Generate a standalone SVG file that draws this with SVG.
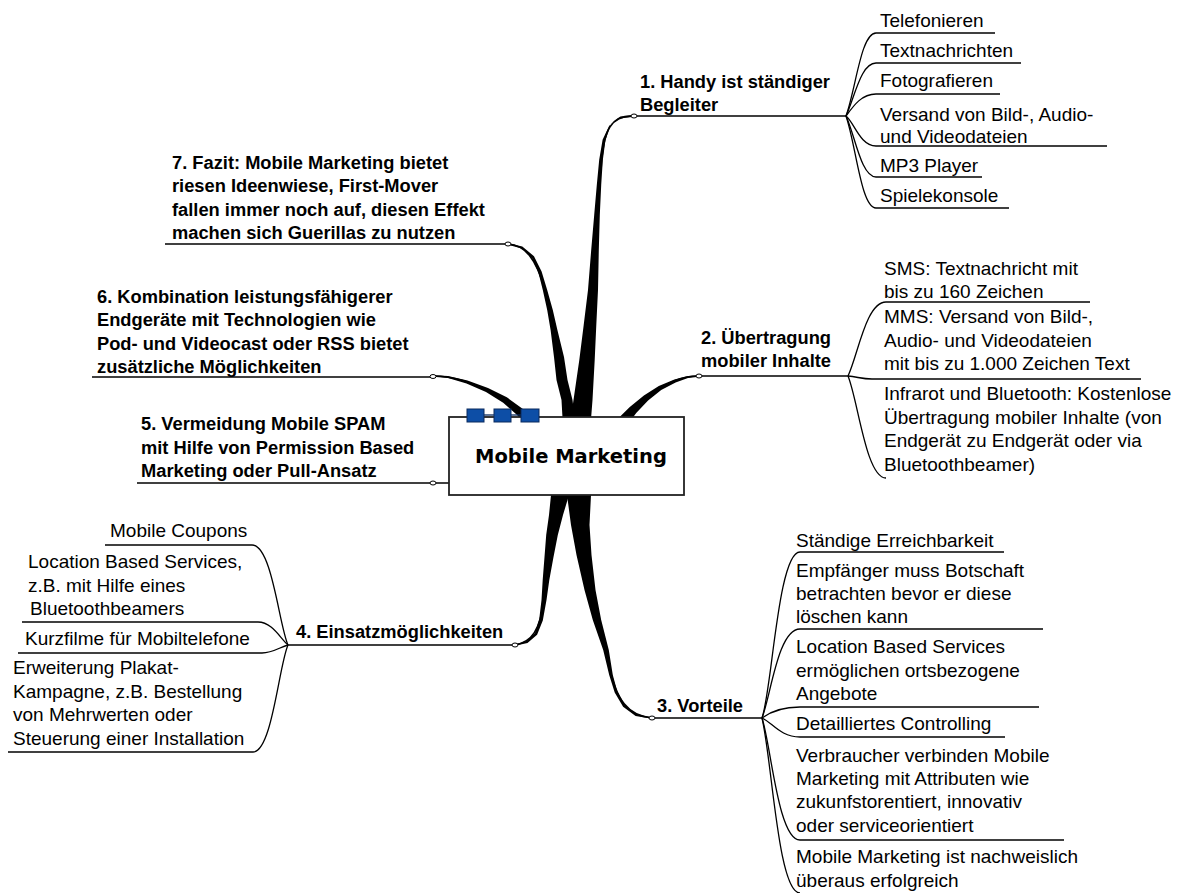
<svg xmlns="http://www.w3.org/2000/svg" width="1186" height="893" viewBox="0 0 1186 893">
  <defs>
    <style>
      .b { font-family: "Liberation Sans", Arial, sans-serif; font-weight: bold; font-size: 18.3px; fill: #000; }
      .t { font-family: "Liberation Sans", Arial, sans-serif; font-size: 19px; fill: #000; }
      .c { font-family: "DejaVu Sans", Verdana, sans-serif; font-weight: bold; font-size: 19.5px; fill: #000; }
      .ln { fill: none; stroke: #000; stroke-width: 1.3; }
      .ul { fill: none; stroke: #000; stroke-width: 1.5; }
      .thin { fill: none; stroke: #000; stroke-width: 1.7; stroke-linecap: round; }
      .prong { fill: #000; }
      .dot { fill: #fff; stroke: #000; stroke-width: 1; }
      .sq { fill: #0d4ea6; stroke: #0a2a5e; stroke-width: 1; }
    </style>
  </defs>
  <rect width="1186" height="893" fill="#fff"/>

  <!-- connectors: tapered main branches and thin sub-branch leaders -->
  <g id="connectors">
    <!-- main branches (tapered) -->
    <polygon class="prong" points="634,115.2 620.3,116.6 610.8,124.2 605.4,140.3 602.8,160.2 601.2,185 599.8,215 598.8,250 598,290 596.3,325 594.7,360 592.5,400 589,445 567,445 573.5,400 579.3,360 583.7,325 588,290 591.2,250 594.2,215 596.8,185 599.2,159.8 602.6,139.7 609.2,125.8 619.7,118.4 634,116.8"/>
    <path class="thin" d="M634,116 C612,115 603,128 601,170"/>
    <polygon class="prong" points="508,243.2 522.3,246.5 534,256.2 541.6,271.5 547.2,290 552.8,310 557.4,330 564,357 567.5,380 572.5,400 578,445 564,445 561.5,400 556.5,380 554,357 550.6,330 547.2,310 542.8,290 538.4,272.5 532,257.8 521.7,248.5 508,244.8"/>
    <path class="thin" d="M508,244 C525,245 536,258 545,290"/>
    <polygon class="prong" points="699,375.2 688,376 674.4,379.6 658.8,386 643.9,395.4 629.8,406.9 615.3,421.3 598.6,440.2 611.4,449.8 624.7,428.8 636.2,413.1 648.1,400.6 661.2,390 675.6,382.4 688,378 699,376.8"/>
    <path class="thin" d="M699,376 C680,376 668,383 650,395"/>
    <polygon class="prong" points="433,375.2 448,376.1 467.5,380.6 488,387.9 506.8,397.3 522.9,408.9 539.2,424.4 553.2,441.1 542.8,448.9 530.8,431.6 517.1,415.1 503.2,402.8 486,392.1 466.5,383.4 448,377.9 433,376.8"/>
    <path class="thin" d="M433,376 C455,376 472,383 495,394"/>
    <polygon class="prong" points="515,645.8 527.5,642.9 537.1,634.7 542.8,620.4 546.5,600 549.3,580 553.5,557 557.8,535 563,515 569,495 573,470 553,470 551,495 549,515 546.2,535 544.5,557 542.7,580 541.5,600 539.2,619.6 534.9,633.3 526.5,641.1 515,644.2"/>
    <path class="thin" d="M515,645 C532,642 540,630 544,600"/>
    <polygon class="prong" points="652,717.2 636.4,714.1 624.9,705.2 617.3,691.5 612.8,675 608.8,650 601.2,620 595.5,590 591.5,555 589.5,525 591,495 589,470 565,470 567,495 571,525 576.5,555 584.5,590 592.8,620 603.2,650 609.2,675 614.7,692.5 623.1,706.8 635.6,715.9 652,718.8"/>
    <path class="thin" d="M652,718 C628,716 616,700 609,665"/>
    <line class="ul" x1="433" y1="483" x2="449" y2="483"/>

    <!-- branch 1 leaders -->
    <path class="ln" d="M846,116 C856,88 861,33 876,33"/>
    <path class="ln" d="M846,116 C855,96 861,63 876,63"/>
    <path class="ln" d="M846,116 C854,105 862,94 876,94"/>
    <path class="ln" d="M846,116 C854,122 860,146 876,146"/>
    <path class="ln" d="M846,116 C855,135 861,177 876,177"/>
    <path class="ln" d="M846,116 C856,145 861,208 876,208"/>
    <!-- branch 2 leaders -->
    <path class="ln" d="M848,376 C858,355 866,302 886,302"/>
    <path class="ln" d="M848,376 C858,377 862,379 872,379"/>
    <path class="ln" d="M848,376 C858,400 866,478 886,478"/>
    <!-- branch 3 leaders -->
    <path class="ln" d="M762,718 C772,690 778,552 800,552"/>
    <path class="ln" d="M762,718 C771,695 778,629 800,629"/>
    <path class="ln" d="M762,718 C770,712 780,707 800,707"/>
    <path class="ln" d="M762,718 C772,722 780,737 800,737"/>
    <path class="ln" d="M762,718 C771,745 778,840 800,840"/>
    <path class="ln" d="M762,718 C772,760 778,893 800,893"/>
    <!-- branch 4 leaders -->
    <path class="ln" d="M288,645 C279,625 272,545 252,545"/>
    <path class="ln" d="M288,645 C280,638 272,622 258,622"/>
    <path class="ln" d="M288,645 C280,647 273,653 262,653"/>
    <path class="ln" d="M288,645 C279,665 272,752 253,752"/>
  </g>

  <!-- central topic -->
  <g id="center">
    <rect x="449" y="417" width="235" height="78" fill="#fff" stroke="#222" stroke-width="1.8"/>
    <line x1="484" y1="415" x2="494" y2="415" stroke="#0a2a5e" stroke-width="1.3"/>
    <line x1="511" y1="415" x2="521" y2="415" stroke="#0a2a5e" stroke-width="1.3"/>
    <rect class="sq" x="467" y="409" width="17" height="13"/>
    <rect class="sq" x="494" y="409" width="17" height="13"/>
    <rect class="sq" x="521" y="409" width="18" height="13"/>
    <text class="c" x="475" y="463">Mobile Marketing</text>
  </g>

  <!-- 1. Handy -->
  <g id="topic1">
    <line class="ul" x1="634" y1="116" x2="846" y2="116"/>
    <ellipse class="dot" cx="634" cy="116" rx="3" ry="2"/>
    <text class="b" x="640" y="87.5">1. Handy ist ständiger</text>
    <text class="b" x="640" y="110.5">Begleiter</text>
    <g id="topic1-items">
      <line class="ln" x1="876" y1="33" x2="995" y2="33"/>
      <text class="t" x="880" y="27">Telefonieren</text>
      <line class="ln" x1="876" y1="63" x2="1021" y2="63"/>
      <text class="t" x="880" y="57">Textnachrichten</text>
      <line class="ln" x1="876" y1="94" x2="1000" y2="94"/>
      <text class="t" x="880" y="87">Fotografieren</text>
      <line class="ln" x1="876" y1="146" x2="1107" y2="146"/>
      <text class="t" x="880" y="121">Versand von Bild-, Audio-</text>
      <text class="t" x="880" y="143">und Videodateien</text>
      <line class="ln" x1="876" y1="177" x2="982" y2="177"/>
      <text class="t" x="880" y="172">MP3 Player</text>
      <line class="ln" x1="876" y1="208" x2="1009" y2="208"/>
      <text class="t" x="880" y="202">Spielekonsole</text>
    </g>
  </g>

  <!-- 2. Übertragung -->
  <g id="topic2">
    <line class="ul" x1="699" y1="376" x2="848" y2="376"/>
    <ellipse class="dot" cx="699" cy="376" rx="3" ry="2"/>
    <text class="b" x="701" y="344">2. Übertragung</text>
    <text class="b" x="701" y="367">mobiler Inhalte</text>
    <g id="topic2-items">
      <line class="ln" x1="886" y1="302" x2="1090" y2="302"/>
      <text class="t" x="884" y="275">SMS: Textnachricht mit</text>
      <text class="t" x="884" y="298">bis zu 160 Zeichen</text>
      <line class="ln" x1="872" y1="379" x2="1141" y2="379"/>
      <text class="t" x="884" y="323">MMS: Versand von Bild-,</text>
      <text class="t" x="884" y="347">Audio- und Videodateien</text>
      <text class="t" x="884" y="370">mit bis zu 1.000 Zeichen Text</text>
      <text class="t" x="884" y="400">Infrarot und Bluetooth: Kostenlose</text>
      <text class="t" x="884" y="424">Übertragung mobiler Inhalte (von</text>
      <text class="t" x="884" y="447">Endgerät zu Endgerät oder via</text>
      <text class="t" x="884" y="471">Bluetoothbeamer)</text>
    </g>
  </g>

  <!-- 3. Vorteile -->
  <g id="topic3">
    <line class="ul" x1="652" y1="718" x2="762" y2="718"/>
    <ellipse class="dot" cx="652" cy="718" rx="3" ry="2"/>
    <text class="b" x="657" y="712">3. Vorteile</text>
    <g id="topic3-items">
      <line class="ln" x1="800" y1="552" x2="1004" y2="552"/>
      <text class="t" x="796" y="546.5">Ständige Erreichbarkeit</text>
      <line class="ln" x1="800" y1="629" x2="1043" y2="629"/>
      <text class="t" x="796" y="577">Empfänger muss Botschaft</text>
      <text class="t" x="796" y="600">betrachten bevor er diese</text>
      <text class="t" x="796" y="623">löschen kann</text>
      <line class="ln" x1="800" y1="707" x2="1039" y2="707"/>
      <text class="t" x="796" y="653">Location Based Services</text>
      <text class="t" x="796" y="676.5">ermöglichen ortsbezogene</text>
      <text class="t" x="796" y="700">Angebote</text>
      <line class="ln" x1="800" y1="737" x2="1005" y2="737"/>
      <text class="t" x="796" y="730">Detailliertes Controlling</text>
      <line class="ln" x1="800" y1="840" x2="1064" y2="840"/>
      <text class="t" x="796" y="761.5">Verbraucher verbinden Mobile</text>
      <text class="t" x="796" y="785">Marketing mit Attributen wie</text>
      <text class="t" x="796" y="808">zukunfstorentiert, innovativ</text>
      <text class="t" x="796" y="831.5">oder serviceorientiert</text>
      <text class="t" x="796" y="863">Mobile Marketing ist nachweislich</text>
      <text class="t" x="796" y="886.5">überaus erfolgreich</text>
    </g>
  </g>

  <!-- 4. Einsatzmöglichkeiten -->
  <g id="topic4">
    <line class="ul" x1="288" y1="645" x2="515" y2="645"/>
    <ellipse class="dot" cx="515" cy="645" rx="3" ry="2"/>
    <text class="b" x="296" y="638">4. Einsatzmöglichkeiten</text>
    <g id="topic4-items">
      <line class="ln" x1="105" y1="545" x2="252" y2="545"/>
      <text class="t" x="110" y="537">Mobile Coupons</text>
      <line class="ln" x1="22" y1="622" x2="258" y2="622"/>
      <text class="t" x="28" y="568">Location Based Services,</text>
      <text class="t" x="28" y="591.5">z.B. mit Hilfe eines</text>
      <text class="t" x="30" y="615">Bluetoothbeamers</text>
      <line class="ln" x1="18" y1="653" x2="262" y2="653"/>
      <text class="t" x="25" y="645">Kurzfilme für Mobiltelefone</text>
      <line class="ln" x1="8" y1="752" x2="253" y2="752"/>
      <text class="t" x="13" y="674">Erweiterung Plakat-</text>
      <text class="t" x="13" y="697.5">Kampagne, z.B. Bestellung</text>
      <text class="t" x="13" y="721">von Mehrwerten oder</text>
      <text class="t" x="13" y="744.5">Steuerung einer Installation</text>
    </g>
  </g>

  <!-- 5. Vermeidung Mobile SPAM -->
  <g id="topic5">
    <line class="ul" x1="137" y1="483" x2="433" y2="483"/>
    <ellipse class="dot" cx="433" cy="483" rx="3" ry="2"/>
    <text class="b" x="141" y="430">5. Vermeidung Mobile SPAM</text>
    <text class="b" x="141" y="453.5">mit Hilfe von Permission Based</text>
    <text class="b" x="141" y="477">Marketing oder Pull-Ansatz</text>
  </g>

  <!-- 6. Kombination -->
  <g id="topic6">
    <line class="ul" x1="92" y1="377" x2="433" y2="377"/>
    <ellipse class="dot" cx="433" cy="376.5" rx="3" ry="2"/>
    <text class="b" x="97" y="302.5">6. Kombination leistungsfähigerer</text>
    <text class="b" x="97" y="326">Endgeräte mit Technologien wie</text>
    <text class="b" x="97" y="349.5">Pod- und Videocast oder RSS bietet</text>
    <text class="b" x="97" y="373">zusätzliche Möglichkeiten</text>
  </g>

  <!-- 7. Fazit -->
  <g id="topic7">
    <line class="ul" x1="165" y1="244" x2="508" y2="244"/>
    <ellipse class="dot" cx="508" cy="244" rx="3" ry="2"/>
    <text class="b" x="172" y="168.5">7. Fazit: Mobile Marketing bietet</text>
    <text class="b" x="172" y="192">riesen Ideenwiese, First-Mover</text>
    <text class="b" x="172" y="215.5">fallen immer noch auf, diesen Effekt</text>
    <text class="b" x="172" y="239">machen sich Guerillas zu nutzen</text>
  </g>
</svg>
